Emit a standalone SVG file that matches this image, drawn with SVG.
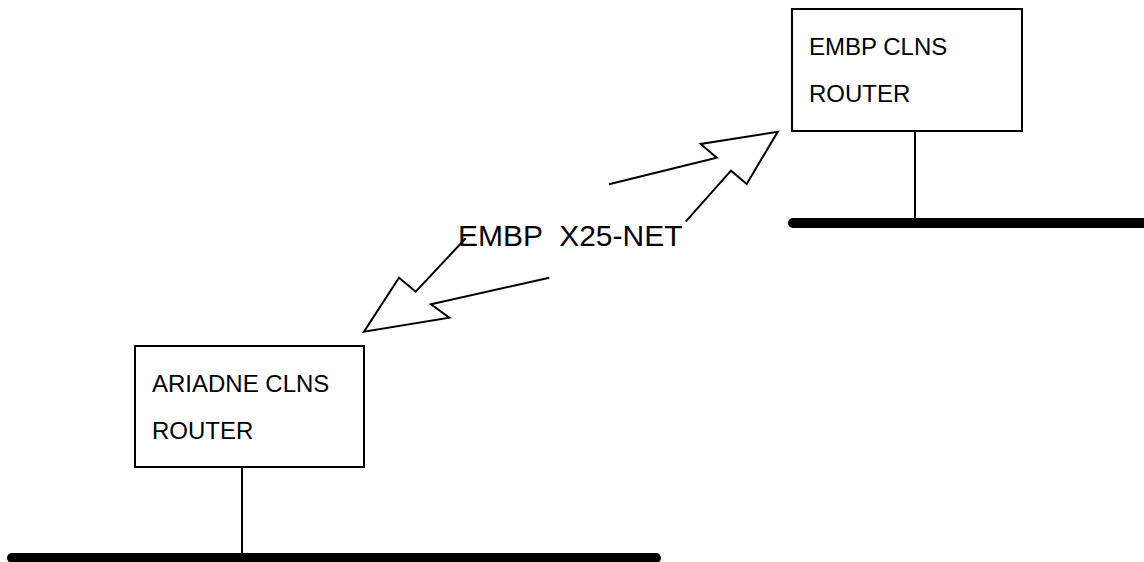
<svg xmlns="http://www.w3.org/2000/svg" width="1144" height="562" viewBox="0 0 1144 562">
<style>
.box{fill:#fff;stroke:#000;stroke-width:2}
.lbl{font-family:"Liberation Sans",Arial,sans-serif;font-size:24px;fill:#000}
.bus{stroke:#000;stroke-width:10;stroke-linecap:round;fill:none}
.drop{stroke:#000;stroke-width:2;fill:none}
.bolt{stroke:#000;stroke-width:2;fill:none;stroke-linejoin:miter}
</style>
<rect width="1144" height="562" fill="#fff"/>
<g id="embp-router">
<rect class="box" x="792" y="9" width="230" height="122"/>
<text class="lbl" x="809" y="55">EMBP CLNS</text>
<text class="lbl" x="809" y="102">ROUTER</text>
</g>
<g id="ariadne-router">
<rect class="box" x="135" y="346" width="229" height="121"/>
<text class="lbl" x="152" y="392">ARIADNE CLNS</text>
<text class="lbl" x="152" y="439">ROUTER</text>
</g>
<g id="x25-net">
<text x="458" y="246" style="font-family:'Liberation Sans',Arial,sans-serif;font-size:30px;fill:#000;white-space:pre" xml:space="preserve">EMBP  X25-NET</text>
</g>
<g id="connectors">
<line class="drop" x1="915" y1="131" x2="915" y2="219"/>
<line class="bus" x1="793" y1="223" x2="1150" y2="223"/>
<line class="drop" x1="242" y1="467" x2="242" y2="554"/>
<line class="bus" x1="12" y1="558" x2="656" y2="558"/>
<polyline class="bolt" points="549.3,277.7 431,304.3 449.3,317.7 364,331.7 399,277.7 415.7,291.7 465.7,238.3"/>
<polyline class="bolt" points="685.7,221.7 731,170.7 746.7,184 777.7,131.7 700.7,144 716.7,157.7 609,184.3"/>
</g>
</svg>
